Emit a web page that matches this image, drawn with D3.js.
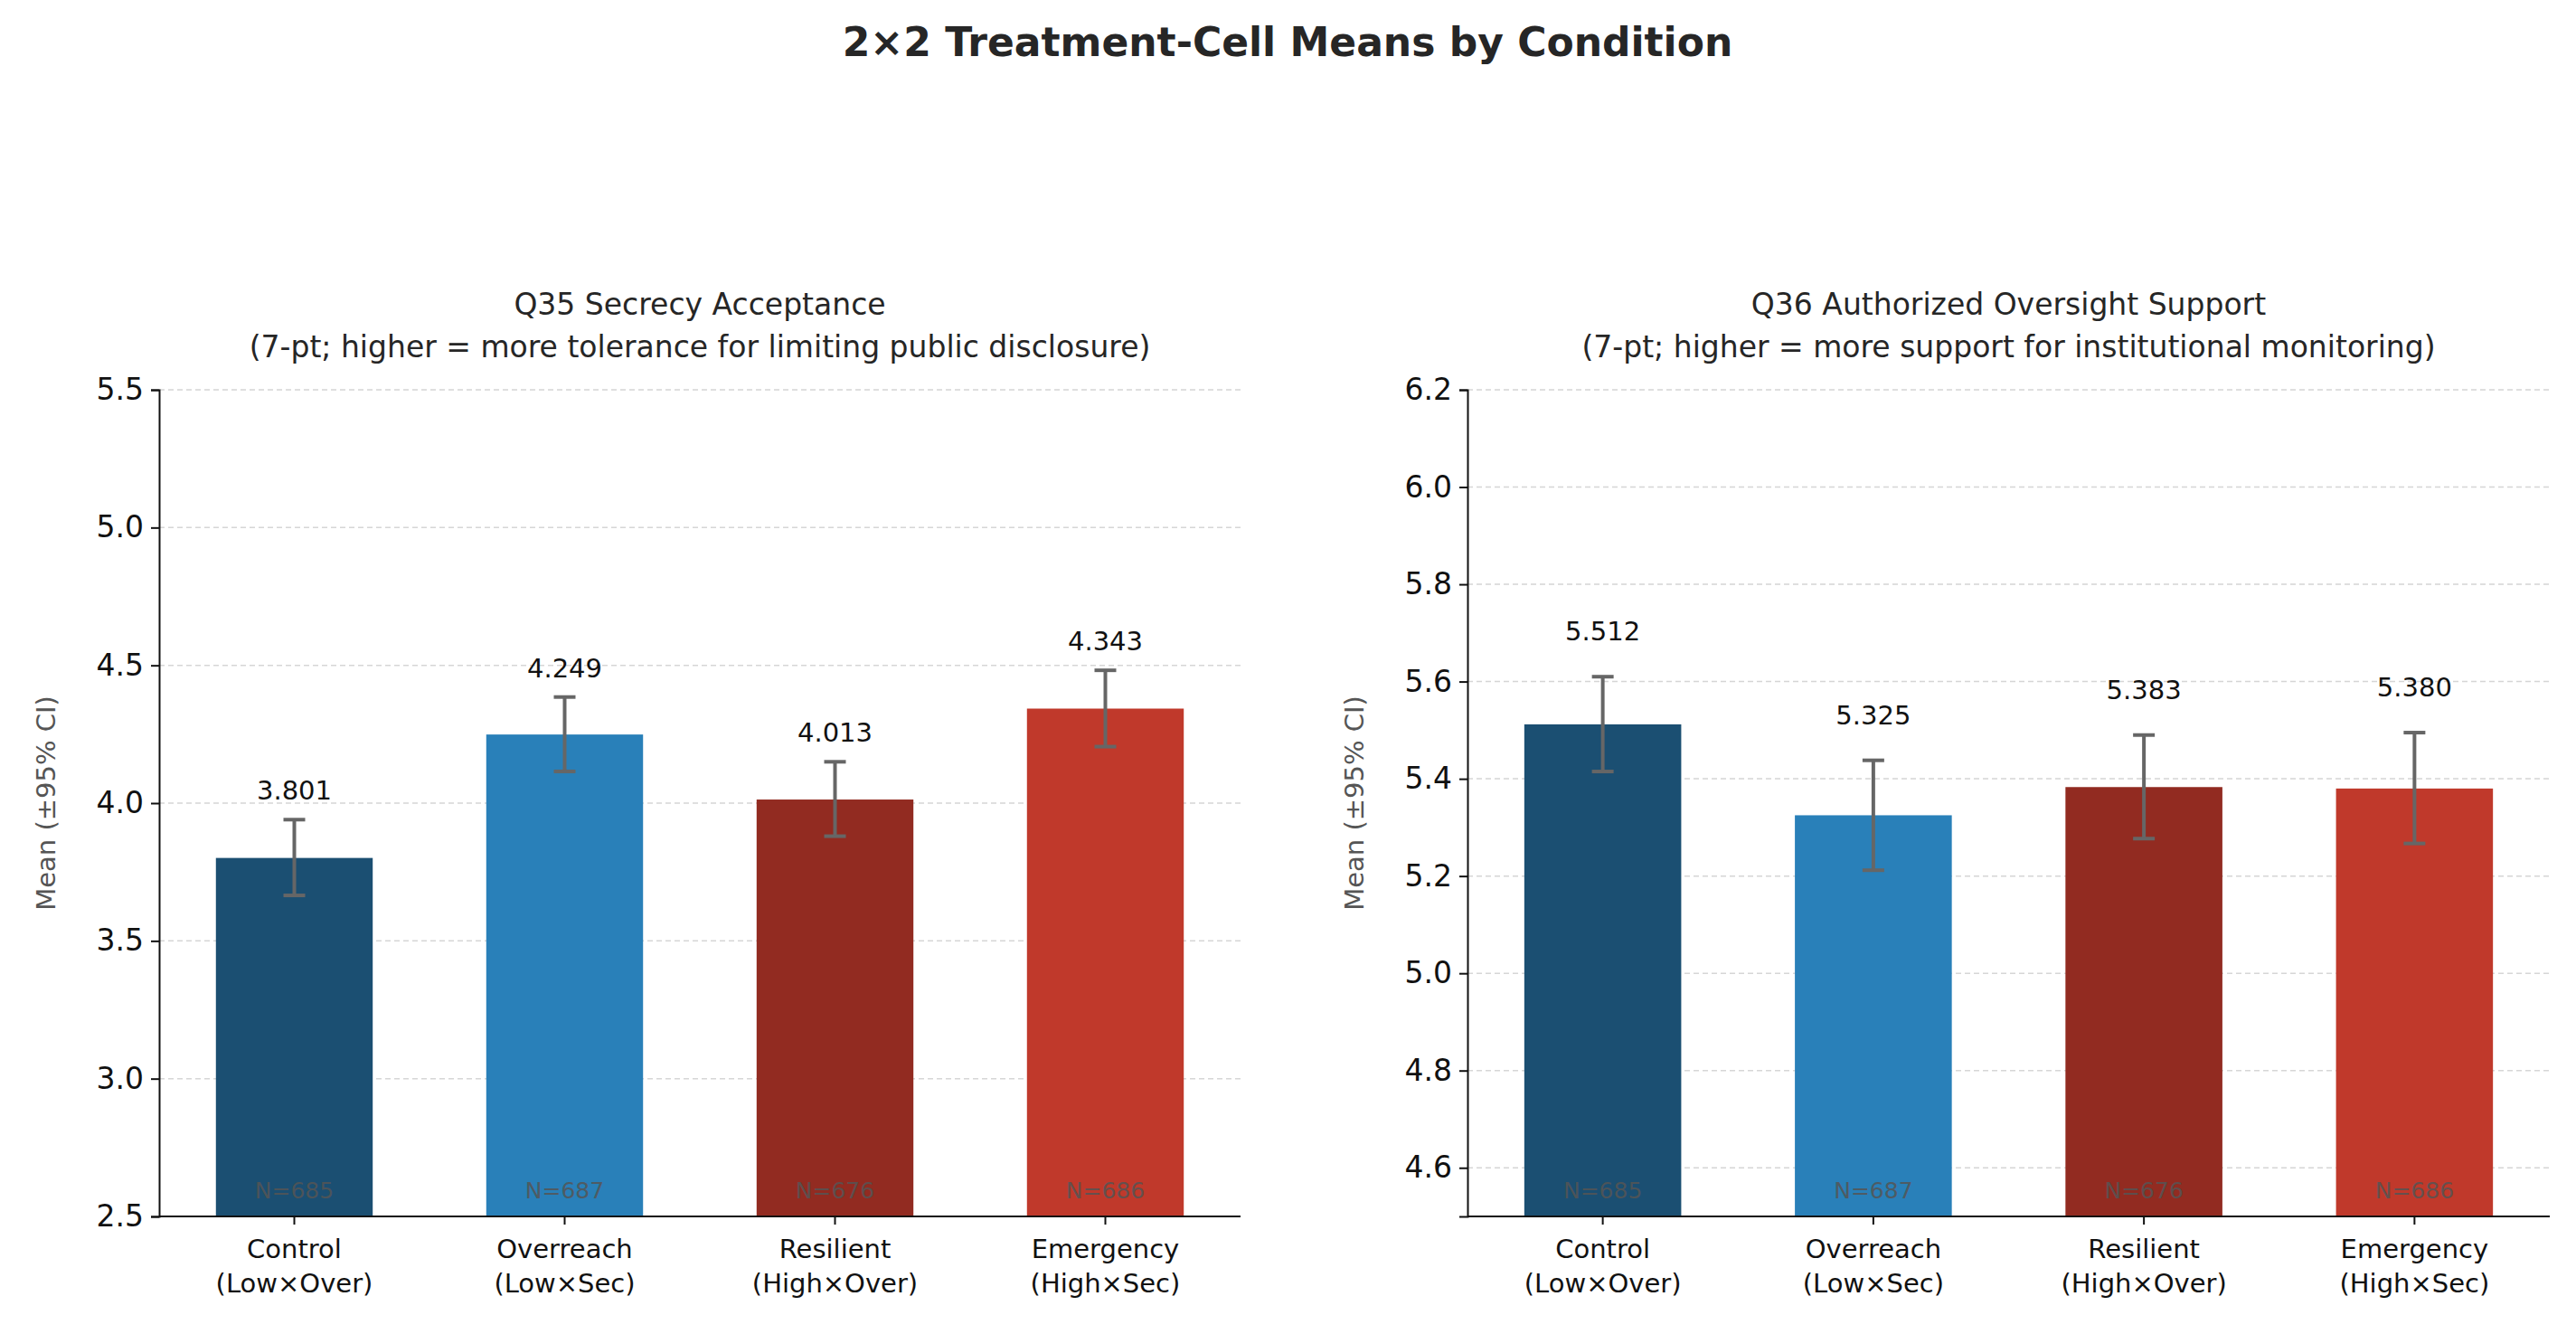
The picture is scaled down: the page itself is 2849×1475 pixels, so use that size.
<!DOCTYPE html>
<html><head><meta charset="utf-8">
<script src="https://cdn.jsdelivr.net/npm/d3@7"></script>
<style>body{margin:0;background:#fff;font-family:"DejaVu Sans",sans-serif}</style>
</head><body><svg id="c" width="2849" height="1475"></svg>
<script>
const categories = ["Control\n(Low×Over)","Overreach\n(Low×Sec)","Resilient\n(High×Over)","Emergency\n(High×Sec)"];
const colors = ["#1b4f72","#2980b9","#922b21","#c0392b"];
const nLabels = ["N=685","N=687","N=676","N=686"];
const q35Means = [3.801,4.249,4.013,4.343];
const q35Lo = [3.665,4.115,3.880,4.205];
const q35Hi = [3.940,4.385,4.150,4.482];
const q36Means = [5.512,5.325,5.383,5.380];
const q36Lo = [5.415,5.212,5.277,5.267];
const q36Hi = [5.610,5.438,5.490,5.495];
const q35Ticks = [2.5,3.0,3.5,4.0,4.5,5.0,5.5];
const q36Ticks = [4.6,4.8,5.0,5.2,5.4,5.6,5.8,6.0,6.2];

const svg = d3.select("#c");
svg.append("text").attr("x",1424).attr("y",62).attr("text-anchor","middle")
  .attr("font-size",44).attr("font-weight","bold").attr("fill","#262626")
  .text("2×2 Treatment-Cell Means by Condition");

function panel(x0,x1,domain,ticks,fmt,means,lo,hi,t1,t2,lblOff){
  const y0=1345,yT=431;
  const g=svg.append("g");
  const x=d3.scalePoint().domain(d3.range(4)).range([x0,x1]).padding(0.5);
  const bw=x.step()*0.58;
  const y=d3.scaleLinear().domain(domain).range([y0,yT]);
  g.selectAll(".gl").data(ticks).join("line").attr("x1",x0).attr("x2",x1)
    .attr("y1",d=>y(d)).attr("y2",d=>y(d)).attr("stroke","#ccc").attr("stroke-width",1.5).attr("stroke-dasharray","6,4").attr("opacity",0.8);
  g.selectAll(".bar").data(means).join("rect").attr("x",(d,i)=>x(i)-bw/2).attr("width",bw)
    .attr("y",d=>y(d)).attr("height",d=>y0-y(d)).attr("fill",(d,i)=>colors[i]);
  means.forEach((m,i)=>{
    const cx=x(i);
    g.append("line").attr("x1",cx).attr("x2",cx).attr("y1",y(lo[i])).attr("y2",y(hi[i])).attr("stroke","#666").attr("stroke-width",4);
    [lo[i],hi[i]].forEach(v=>g.append("line").attr("x1",cx-12).attr("x2",cx+12).attr("y1",y(v)).attr("y2",y(v)).attr("stroke","#666").attr("stroke-width",4));
    g.append("text").attr("x",cx).attr("y",y(hi[i])-lblOff).attr("text-anchor","middle").attr("font-size",29).attr("fill","#111").text(m.toFixed(3));
    g.append("text").attr("x",cx).attr("y",y0-20).attr("text-anchor","middle").attr("font-size",25).attr("fill","#555").attr("opacity",0.85).text(nLabels[i]);
    const lines=categories[i].split("\n");
    lines.forEach((l,k)=>g.append("text").attr("x",cx).attr("y",y0+46+k*38).attr("text-anchor","middle").attr("font-size",29).attr("fill","#111").text(l));
  });
  const ax=g.append("g").attr("transform",`translate(${x0},0)`).call(d3.axisLeft(y).tickValues(ticks).tickFormat(fmt).tickSize(9).tickPadding(8));
  ax.selectAll("text").attr("font-size",33).attr("fill","#111").attr("font-family","DejaVu Sans");
  ax.selectAll("line,path").attr("stroke","#111").attr("stroke-width",2);
  g.append("line").attr("x1",x0).attr("x2",x1).attr("y1",y0).attr("y2",y0).attr("stroke","#111").attr("stroke-width",2);
  g.selectAll(".xt").data(d3.range(4)).join("line").attr("x1",d=>x(d)).attr("x2",d=>x(d)).attr("y1",y0).attr("y2",y0+9).attr("stroke","#111").attr("stroke-width",2);
  g.append("text").attr("transform",`translate(${x0-115},${(y0+yT)/2}) rotate(-90)`).attr("text-anchor","middle").attr("font-size",29).attr("fill","#555").text("Mean (±95% CI)");
  const cx=(x0+x1)/2;
  g.append("text").attr("x",cx).attr("y",348).attr("text-anchor","middle").attr("font-size",33).attr("fill","#262626").text(t1);
  g.append("text").attr("x",cx).attr("y",395).attr("text-anchor","middle").attr("font-size",33).attr("fill","#262626").text(t2);
}
panel(176,1372,[2.5,5.5],q35Ticks,d3.format(".1f"),q35Means,q35Lo,q35Hi,"Q35  Secrecy Acceptance","(7-pt; higher = more tolerance for limiting public disclosure)",22);
panel(1623,2820,[4.5,6.2],q36Ticks,d3.format(".1f"),q36Means,q36Lo,q36Hi,"Q36  Authorized Oversight Support","(7-pt; higher = more support for institutional monitoring)",40);
</script></body></html>
